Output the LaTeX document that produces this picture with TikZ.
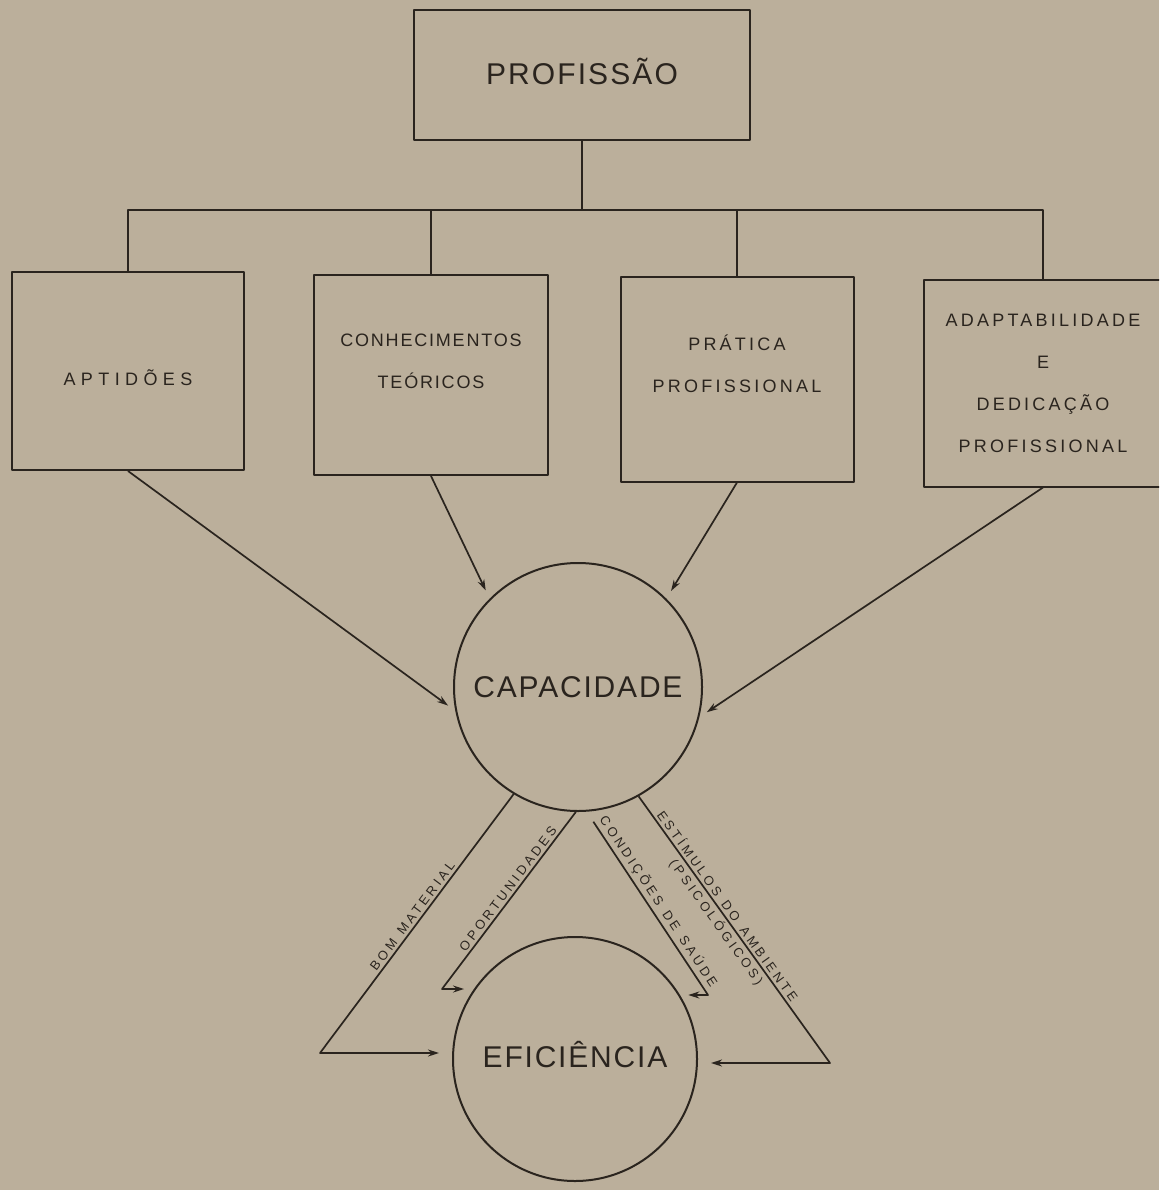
\documentclass[tikz,border=0pt]{standalone}
\usepackage{fontspec}
\setmainfont{Liberation Sans}
\usepackage{xcolor}
\usepackage{tikz}
\usetikzlibrary{calc}
\usetikzlibrary{arrows.meta}
\usetikzlibrary{positioning}
\definecolor{paper}{RGB}{187,175,155}
\definecolor{ink}{RGB}{42,36,30}
\newcommand{\boxfont}{\fontsize{18}{42}\selectfont}
\newcommand{\bigfont}{\fontsize{30}{36}\selectfont}
\newcommand{\spaced}[1]{\addfontfeatures{LetterSpace=#1}}
\newcommand{\gap}{\hspace{9pt}}
\tikzset{box/.style={draw=ink, rectangle, line width=2pt, align=center, inner sep=0pt, text=ink}}
\tikzset{ring/.style={draw=ink, circle, line width=2pt, inner sep=0pt, text=ink, minimum size=246pt, font=\bigfont\spaced{6}}}
\tikzset{wire/.style={draw=ink, line width=1.8pt}}
\tikzset{flow/.style={draw=ink, line width=1.7pt, -{Stealth[length=11pt,width=7pt]}, shorten >=9pt}}
\tikzset{lbl/.style={sloped, inner sep=2.5pt, text=ink, font=\fontsize{13}{15}\selectfont\spaced{25}}}

\begin{document}
\begin{tikzpicture}[x=1pt, y=-1pt, line join=round]
	\useasboundingbox (0,0) rectangle (1159,1190);
	\fill[paper] (0,0) rectangle (1159,1190);
	\clip (0,0) rectangle (1159,1190);
	
	\node[box, line width=2.6pt, minimum width=336pt, minimum height=130pt, text depth=8pt, font=\bigfont\spaced{7}] (prof) at (582,75) {PROFISSÃO};
	\node[box, minimum width=232pt, minimum height=198pt, text height=30pt, font=\boxfont\spaced{30}] (apt) at (128,371) {APTIDÕES};
	\node[box, minimum width=234pt, minimum height=200pt, text depth=27pt, font=\boxfont\spaced{10}] (con) at (431,375) {CONHECIMENTOS\\TEÓRICOS};
	\node[box, minimum width=233pt, minimum height=205pt, text depth=30pt, font=\boxfont\spaced{18}] (pra) at (737,379) {PRÁTICA\\PROFISSIONAL};
	\node[box, minimum width=238pt, minimum height=207pt, font=\boxfont\spaced{18}] (ada) at (1043,383) {ADAPTABILIDADE\\E\\DEDICAÇÃO\\PROFISSIONAL};
	
	\node[ring, minimum size=248pt] (cap) at (578,687) {CAPACIDADE};
	\node[ring, minimum size=244pt, text depth=9pt] (efi) at (575,1059) {EFICIÊNCIA};
	
	\coordinate (bus) at (582,210);
	\draw[wire] (prof.south) -- (bus);
	\draw[wire] (apt.north) |- (bus) -| (ada.north);
	\draw[wire] (con.north) -- (con.north |- bus);
	\draw[wire] (pra.north) -- (pra.north |- bus);
	
	\draw[flow] (apt.south) -- (cap.191);
	\draw[flow] (con.south) -- (cap.135);
	\draw[flow] (pra.south) -- (cap.45);
	\draw[flow] (ada.south) -- (cap.346);
	
	% caminhos de capacidade para eficiencia
	\coordinate (bm) at (320,1053);
	\coordinate (op) at (442,989);
	\coordinate (cs) at (708,995);
	\coordinate (ea) at (830,1063);
	\draw[flow, shorten >=13pt] (cap.239) -- node[lbl, above, pos=0.49] (bom) {BOM\gap MATERIAL} (bm) -- (bm -| efi.west);
	\draw[flow] (cap.269) -- node[lbl, above, pos=0.46] (opo) {OPORTUNIDADES} (op) -- (op -| efi.146);
	\draw[flow, shorten <=12pt] (cap.274) -- node[lbl, above, pos=0.52] (sau) {CONDIÇÕES\gap DE\gap SAÚDE} (cs) -- (cs -| efi.32);
	\draw[flow, shorten >=13pt] (cap.299) -- node[lbl, above, pos=0.43] (amb) {ESTÍMULOS\gap DO\gap AMBIENTE} node[lbl, below, pos=0.45] (psi) {(PSICOLÓGICOS)} (ea) -- (ea -| efi.east);
\end{tikzpicture}
\end{document}
